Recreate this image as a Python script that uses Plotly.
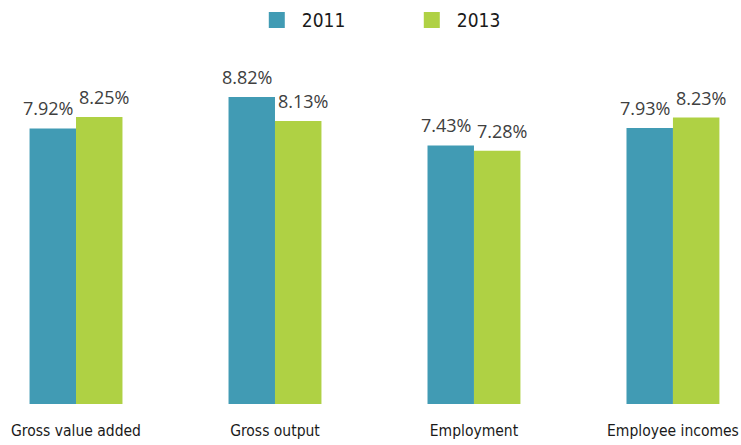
import plotly.graph_objects as go

categories = ["Gross value added", "Gross output", "Employment", "Employee incomes"]
series_names = ["2011", "2013"]
values_2011 = [7.92, 8.82, 7.43, 7.93]
values_2013 = [8.25, 8.13, 7.28, 8.23]
colors = ["#419BB4", "#AFD144"]

fig = go.Figure()
for name, vals, col in zip(series_names, [values_2011, values_2013], colors):
    fig.add_trace(go.Bar(x=categories, y=vals, name=name, marker_color=col,
                         marker_line_width=0, showlegend=False))
    # legend entry with larger square swatch
    fig.add_trace(go.Scatter(x=[None], y=[None], mode="markers", name=name,
                             marker=dict(symbol="square", size=20, color=col)))

label_font = dict(family="Open Sans, DejaVu Sans, sans-serif", size=18, color="#404040")
for vals, shift in [(values_2011, -28), (values_2013, 28)]:
    for c, v in zip(categories, vals):
        fig.add_annotation(x=c, y=v, text=f"{v:.2f}%", showarrow=False,
                           xshift=shift, yshift=6, yanchor="bottom",
                           font=label_font)

cond_font = "DejaVu Sans Condensed, sans-serif"
fig.update_layout(
    width=741, height=445,
    margin=dict(l=0, r=0, t=56, b=41, autoexpand=False),
    paper_bgcolor="white", plot_bgcolor="white",
    barmode="group", bargap=0.533, bargroupgap=0,
    xaxis=dict(type="category", categoryorder="array", categoryarray=categories,
               autorange=False, range=[-0.382, 3.342], showgrid=False,
               showline=False, ticks="", zeroline=False, automargin=False,
               ticklabelstandoff=15,
               tickfont=dict(family=cond_font, size=15.5, color="#1a1a1a")),
    yaxis=dict(range=[0, 10], autorange=False, visible=False, showgrid=False, zeroline=False),
    legend=dict(orientation="h", xref="container", yref="container",
                x=0.3398, xanchor="left", y=0.955, yanchor="middle",
                font=dict(family=cond_font, size=19, color="#1a1a1a"),
                itemwidth=40,
                entrywidth=100, entrywidthmode="pixels", bgcolor="rgba(0,0,0,0)"),
)

fig.write_html("out.html", config={"displayModeBar": False},
               post_script="document.body.style.margin='0';document.body.style.overflow='hidden';")
